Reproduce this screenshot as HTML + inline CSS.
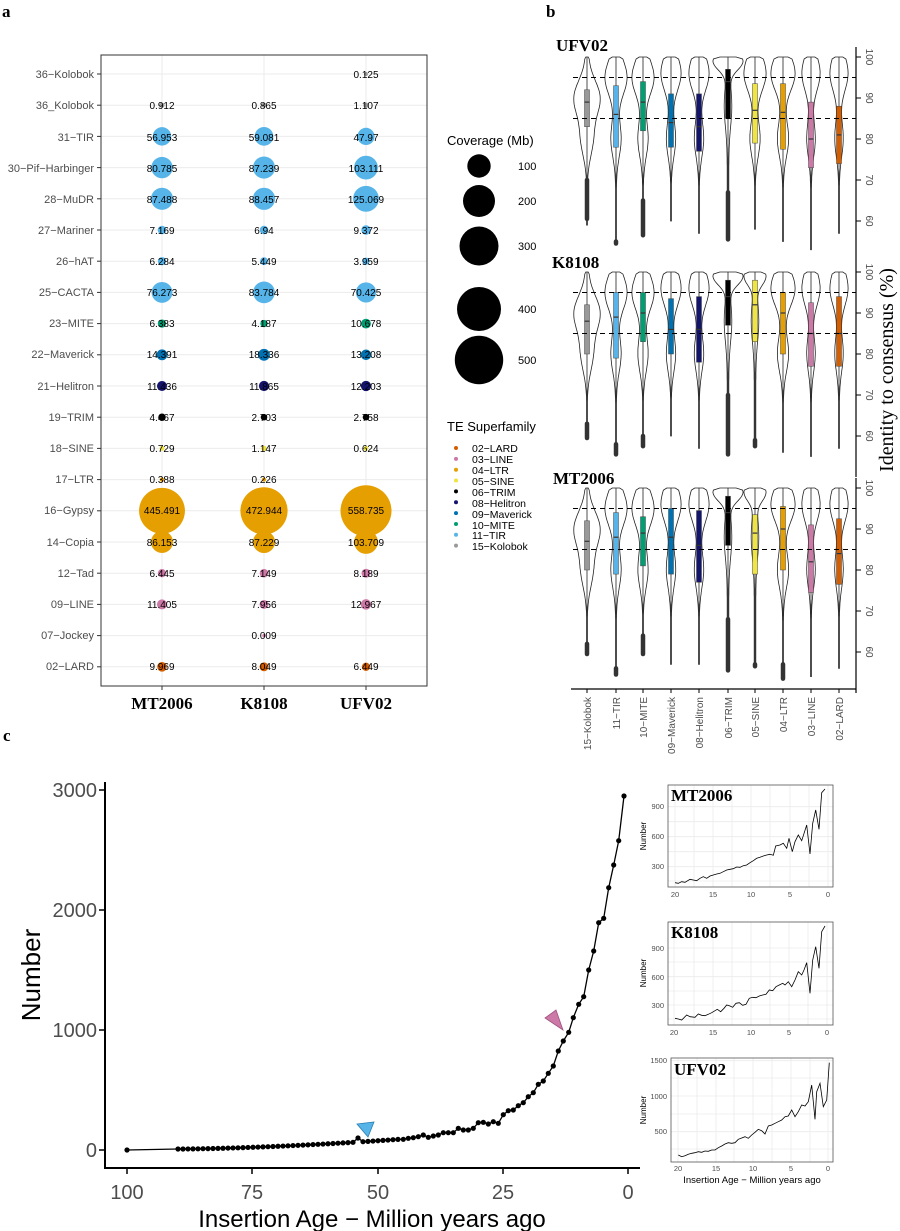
<!DOCTYPE html>
<html><head><meta charset="utf-8">
<style>
body{margin:0;background:#fff;}
svg{display:block;font-family:"Liberation Sans",sans-serif;}
.ser{font-family:"Liberation Serif",serif;font-weight:bold;}
.rl{font-size:11px;fill:#4d4d4d;text-anchor:end;}
.v{font-size:10px;fill:#000;text-anchor:middle;}
.tk{font-size:10px;fill:#4d4d4d;}
</style></head><body>
<svg id="s" width="900" height="1231" viewBox="0 0 900 1231" xmlns="http://www.w3.org/2000/svg">
<rect width="900" height="1231" fill="#fff"/>
<text x="2" y="17" class="ser" font-size="17">a</text>
<text x="546" y="17" class="ser" font-size="17">b</text>
<text x="3" y="741" class="ser" font-size="17">c</text>

<!-- PANEL A -->
<g id="pa"></g>
<rect x="101" y="55" width="326" height="631" fill="none" stroke="#333" stroke-width="1"/>
<g class="rl">
<text x="94" y="78">36−Kolobok</text><text x="94" y="109">36_Kolobok</text><text x="94" y="141">31−TIR</text><text x="94" y="172">30−Pif−Harbinger</text><text x="94" y="203">28−MuDR</text><text x="94" y="234">27−Mariner</text><text x="94" y="265">26−hAT</text><text x="94" y="296">25−CACTA</text><text x="94" y="327">23−MITE</text><text x="94" y="358">22−Maverick</text><text x="94" y="390">21−Helitron</text><text x="94" y="421">19−TRIM</text><text x="94" y="452">18−SINE</text><text x="94" y="483">17−LTR</text><text x="94" y="514">16−Gypsy</text><text x="94" y="546">14−Copia</text><text x="94" y="577">12−Tad</text><text x="94" y="608">09−LINE</text><text x="94" y="639">07−Jockey</text><text x="94" y="670">02−LARD</text>
</g>
<g class="v">
<text x="366" y="78">0.125</text>
<text x="162" y="109">0.912</text><text x="264" y="109">0.865</text><text x="366" y="109">1.107</text>
<text x="162" y="141">56.953</text><text x="264" y="141">59.081</text><text x="366" y="141">47.97</text>
<text x="162" y="172">80.785</text><text x="264" y="172">87.239</text><text x="366" y="172">103.111</text>
<text x="162" y="203">87.488</text><text x="264" y="203">88.457</text><text x="366" y="203">125.069</text>
<text x="162" y="234">7.169</text><text x="264" y="234">6.94</text><text x="366" y="234">9.372</text>
<text x="162" y="265">6.284</text><text x="264" y="265">5.449</text><text x="366" y="265">3.959</text>
<text x="162" y="296">76.273</text><text x="264" y="296">83.784</text><text x="366" y="296">70.425</text>
<text x="162" y="327">6.383</text><text x="264" y="327">4.187</text><text x="366" y="327">10.678</text>
<text x="162" y="358">14.391</text><text x="264" y="358">18.336</text><text x="366" y="358">13.208</text>
<text x="162" y="390">11.436</text><text x="264" y="390">11.865</text><text x="366" y="390">12.203</text>
<text x="162" y="421">4.467</text><text x="264" y="421">2.703</text><text x="366" y="421">2.758</text>
<text x="162" y="452">0.729</text><text x="264" y="452">1.147</text><text x="366" y="452">0.624</text>
<text x="162" y="483">0.388</text><text x="264" y="483">0.226</text>
<text x="162" y="514">445.491</text><text x="264" y="514">472.944</text><text x="366" y="514">558.735</text>
<text x="162" y="546">86.153</text><text x="264" y="546">87.229</text><text x="366" y="546">103.709</text>
<text x="162" y="577">6.445</text><text x="264" y="577">7.149</text><text x="366" y="577">8.189</text>
<text x="162" y="608">11.405</text><text x="264" y="608">7.956</text><text x="366" y="608">12.967</text>
<text x="264" y="639">0.009</text>
<text x="162" y="670">9.969</text><text x="264" y="670">8.049</text><text x="366" y="670">6.449</text>
</g>
<g class="ser" font-size="17" text-anchor="middle">
<text x="162" y="709">MT2006</text><text x="264" y="709">K8108</text><text x="366" y="709">UFV02</text>
</g>

<!-- Legends -->
<text x="447" y="145" font-size="13" fill="#000">Coverage (Mb)</text>
<g fill="#000">
<circle cx="479" cy="166" r="11.7"/><circle cx="479" cy="201" r="16"/><circle cx="479" cy="246" r="19.5"/><circle cx="479" cy="309" r="22"/><circle cx="479" cy="360" r="24.2"/>
</g>
<g font-size="11" fill="#000">
<text x="518" y="170">100</text><text x="518" y="205">200</text><text x="518" y="250">300</text><text x="518" y="313">400</text><text x="518" y="364">500</text>
</g>
<text x="447" y="431" font-size="13" fill="#000">TE Superfamily</text>
<g font-size="10.5" fill="#000">
<text x="472" y="452">02−LARD</text><text x="472" y="463">03−LINE</text><text x="472" y="474">04−LTR</text><text x="472" y="485">05−SINE</text><text x="472" y="496">06−TRIM</text><text x="472" y="507">08−Helitron</text><text x="472" y="518">09−Maverick</text><text x="472" y="529">10−MITE</text><text x="472" y="539">11−TIR</text><text x="472" y="550">15−Kolobok</text>
</g>
<g id="legdots"></g>

<!-- PANEL B -->
<g id="pb"></g>
<text x="556" y="51" class="ser" font-size="17">UFV02</text>
<text x="552" y="268" class="ser" font-size="17">K8108</text>
<text x="553" y="484" class="ser" font-size="17">MT2006</text>
<g class="tk" text-anchor="middle">
<text transform="translate(866,57) rotate(90)">100</text><text transform="translate(866,98) rotate(90)">90</text><text transform="translate(866,139) rotate(90)">80</text><text transform="translate(866,180) rotate(90)">70</text><text transform="translate(866,221) rotate(90)">60</text>
<text transform="translate(866,272) rotate(90)">100</text><text transform="translate(866,313) rotate(90)">90</text><text transform="translate(866,354) rotate(90)">80</text><text transform="translate(866,395) rotate(90)">70</text><text transform="translate(866,436) rotate(90)">60</text>
<text transform="translate(866,488) rotate(90)">100</text><text transform="translate(866,529) rotate(90)">90</text><text transform="translate(866,570) rotate(90)">80</text><text transform="translate(866,611) rotate(90)">70</text><text transform="translate(866,652) rotate(90)">60</text>
</g>
<g class="tk" text-anchor="end">
<text transform="translate(591,697) rotate(-90)">15−Kolobok</text><text transform="translate(620,697) rotate(-90)">11−TIR</text><text transform="translate(647,697) rotate(-90)">10−MITE</text><text transform="translate(675,697) rotate(-90)">09−Maverick</text><text transform="translate(703,697) rotate(-90)">08−Helitron</text><text transform="translate(732,697) rotate(-90)">06−TRIM</text><text transform="translate(759,697) rotate(-90)">05−SINE</text><text transform="translate(787,697) rotate(-90)">04−LTR</text><text transform="translate(815,697) rotate(-90)">03−LINE</text><text transform="translate(843,697) rotate(-90)">02−LARD</text>
</g>
<text transform="translate(893,370) rotate(-90)" text-anchor="middle" font-family="Liberation Serif,serif" font-size="20" fill="#000">Identity to consensus (%)</text>

<!-- PANEL C -->
<g id="pc"></g>
<g font-size="20" fill="#4d4d4d" text-anchor="end">
<text x="97" y="797">3000</text><text x="97" y="917">2000</text><text x="97" y="1037">1000</text><text x="97" y="1157">0</text>
</g>
<g font-size="20" fill="#4d4d4d" text-anchor="middle">
<text x="127" y="1199">100</text><text x="252" y="1199">75</text><text x="378" y="1199">50</text><text x="503" y="1199">25</text><text x="628" y="1199">0</text>
</g>
<text x="372" y="1227" font-size="24" fill="#000" text-anchor="middle">Insertion Age − Million years ago</text>
<text transform="translate(40,975) rotate(-90)" font-size="26" fill="#000" text-anchor="middle">Number</text>

<g id="ins"></g>
<g class="ser" font-size="17">
<text x="671" y="801">MT2006</text><text x="671" y="938">K8108</text><text x="674" y="1075">UFV02</text>
</g>
<g font-size="7.5" fill="#4d4d4d" text-anchor="end">
<text x="664" y="809">900</text><text x="664" y="839">600</text><text x="664" y="869">300</text>
<text x="664" y="951">900</text><text x="664" y="980">600</text><text x="664" y="1008">300</text>
<text x="667" y="1063">1500</text><text x="667" y="1099">1000</text><text x="667" y="1134">500</text>
</g>
<g font-size="7.5" fill="#4d4d4d" text-anchor="middle">
<text x="675" y="897">20</text><text x="713" y="897">15</text><text x="751" y="897">10</text><text x="790" y="897">5</text><text x="828" y="897">0</text>
<text x="674" y="1035">20</text><text x="713" y="1035">15</text><text x="751" y="1035">10</text><text x="789" y="1035">5</text><text x="827" y="1035">0</text>
<text x="678" y="1171">20</text><text x="716" y="1171">15</text><text x="753" y="1171">10</text><text x="791" y="1171">5</text><text x="828" y="1171">0</text>
</g>
<g font-size="8" fill="#000" text-anchor="middle">
<text transform="translate(646,836) rotate(-90)">Number</text>
<text transform="translate(646,973) rotate(-90)">Number</text>
<text transform="translate(646,1110) rotate(-90)">Number</text>
</g>
<text x="752" y="1183" font-size="9.5" fill="#000" text-anchor="middle">Insertion Age − Million years ago</text>

<script>
var NS="http://www.w3.org/2000/svg";
function el(p,t,a){var e=document.createElementNS(NS,t);for(var k in a)e.setAttribute(k,a[k]);p.appendChild(e);return e;}
var C={LARD:"#D55E00",LINE:"#CC79A7",LTR:"#E69F00",SINE:"#F0E442",TRIM:"#000000",HEL:"#14146e",MAV:"#0072B2",MITE:"#009E73",TIR:"#56B4E9",KOL:"#999999"};
// Panel A
var pa=document.getElementById("pa");
for(var i=0;i<20;i++){var y=74+i*31.2;el(pa,"line",{x1:101,x2:427,y1:y,y2:y,stroke:"#ebebeb","stroke-width":1});el(pa,"line",{x1:97,x2:101,y1:y,y2:y,stroke:"#333"});}
[162,264,366].forEach(function(x){el(pa,"line",{x1:x,x2:x,y1:55,y2:686,stroke:"#ebebeb"});el(pa,"line",{x1:x,x2:x,y1:686,y2:690,stroke:"#333"});});
var rows=[["KOL",[null,null,0.125]],["KOL",[0.912,0.865,1.107]],["TIR",[56.953,59.081,47.97]],["TIR",[80.785,87.239,103.111]],["TIR",[87.488,88.457,125.069]],["TIR",[7.169,6.94,9.372]],["TIR",[6.284,5.449,3.959]],["TIR",[76.273,83.784,70.425]],["MITE",[6.383,4.187,10.678]],["MAV",[14.391,18.336,13.208]],["HEL",[11.436,11.865,12.203]],["TRIM",[4.467,2.703,2.758]],["SINE",[0.729,1.147,0.624]],["LTR",[0.388,0.226,null]],["LTR",[445.491,472.944,558.735]],["LTR",[86.153,87.229,103.709]],["LINE",[6.445,7.149,8.189]],["LINE",[11.405,7.956,12.967]],["LINE",[null,0.009,null]],["LARD",[9.969,8.049,6.449]]];
var xs=[162,264,366];
rows.forEach(function(r,i){r[1].forEach(function(v,j){if(v===null)return;var rr=1.6+1.011*Math.sqrt(v);el(pa,"circle",{cx:xs[j],cy:74+i*31.2,r:rr,fill:C[r[0]]});});});
var ld=document.getElementById("legdots");
["LARD","LINE","LTR","SINE","TRIM","HEL","MAV","MITE","TIR","KOL"].forEach(function(k,i){el(ld,"circle",{cx:456,cy:448+i*10.85,r:2,fill:C[k]});});
// Panel B
var pb=document.getElementById("pb");
var T=[57,272,488],S=4.1,vx=[587,616,643,671,699,728,755,783,811,839];
var keys=["KOL","TIR","MITE","MAV","HEL","TRIM","SINE","LTR","LINE","LARD"];
var D=[
[[83,89,92,59,[61,70]],[78,86,93,55,[55,55]],[82,89,94,57,[57,65]],[78,84,91,60,null],[77,83,91,57,null],[85,94,97,56,[56,67]],[79,87,93.5,58,null],[77.5,86.5,93.5,55,null],[73,80,89,53,null],[74,81,88,57,null]],
[[80,88,92,60,[60,63]],[79,89,95,56,[56,58]],[83,90,95,58,[58,60]],[80,86,93.5,60,null],[78,86,94,57,null],[87,94,98,56,[56,70]],[83,92,98,58,[58,59]],[80,90,95,56,null],[77,85,92.5,55,null],[77,85,94,57,null]],
[[80,87,92,60,[60,62]],[79,88,94,55,[55,56]],[81,89,93,60,[60,64]],[79,88,95,57,null],[77,86,94.5,57,null],[86,94,98,56,[56,68]],[79,89,93.5,57,[57,57]],[80,90,95.5,54,[54,57]],[74.5,82,91,54,null],[76.5,84,92.5,56,null]]];
var peak=[90,95,95,96,96,99,96,96,96,96],wmax=[12,10,10,9,9,14,10,11,8,8];
for(var f=0;f<3;f++){
 var Y=function(v){return T[f]+(100-v)*S;};
 el(pb,"line",{x1:856,x2:856,y1:T[f]-10,y2:T[f]+205,stroke:"#000","stroke-width":1.2});
 [100,90,80,70,60].forEach(function(v){el(pb,"line",{x1:856,x2:861,y1:Y(v),y2:Y(v),stroke:"#000"});});
 for(var k=0;k<10;k++){
  var d=D[f][k],x=vx[k];var pk=peak[k]; if(f>0&&k==6)pk=99;
  var L=[],R=[];
  for(var v=100;v>=d[3];v-=0.5){
   var w=wmax[k]*Math.exp(-Math.pow((v-pk)/6,2))+ (wmax[k]*0.45)*Math.exp(-Math.pow((v-80)/6,2))+1.2*Math.max(0,(v-d[3])/(100-d[3]));
   if(k==5||(f>0&&k==6)){w=wmax[k]*Math.exp(-Math.pow((v-99)/3,2))+3*Math.exp(-Math.pow((v-88)/7,2))+0.8;}
   if(v>99.5)w*=0.6; w=Math.max(w,0.4);
   L.push((x-w).toFixed(1)+","+Y(v).toFixed(1));R.unshift((x+w).toFixed(1)+","+Y(v).toFixed(1));
  }
  el(pb,"polygon",{points:L.concat(R).join(" "),fill:"none",stroke:"#222","stroke-width":0.8});
  el(pb,"line",{x1:x,x2:x,y1:Y(100),y2:Y(d[3]),stroke:"#222","stroke-width":0.8});
  if(d[4])el(pb,"line",{x1:x,x2:x,y1:Y(d[4][1]),y2:Y(d[4][0])+2,stroke:"#333","stroke-width":4.5,"stroke-linecap":"round"});
  el(pb,"rect",{x:x-2.5,y:Y(d[2]),width:5,height:Y(d[0])-Y(d[2]),fill:C[keys[k]],stroke:"#444","stroke-width":0.5});
  el(pb,"line",{x1:x-2.5,x2:x+2.5,y1:Y(d[1]),y2:Y(d[1]),stroke:"#333","stroke-width":1.2});
 }
 [95,85].forEach(function(v){el(pb,"line",{x1:573,x2:856,y1:Y(v),y2:Y(v),stroke:"#000","stroke-width":1,"stroke-dasharray":"5,4"});});
}
el(pb,"line",{x1:571,x2:856,y1:689,y2:689,stroke:"#000","stroke-width":1.2});
vx.forEach(function(x){el(pb,"line",{x1:x,x2:x,y1:689,y2:693,stroke:"#000"});});
// Panel C
var pc=document.getElementById("pc");
el(pc,"line",{x1:105,x2:105,y1:782,y2:1168,stroke:"#000","stroke-width":2});
el(pc,"line",{x1:104,x2:640,y1:1168,y2:1168,stroke:"#000","stroke-width":2});
[790,910,1030,1150].forEach(function(y){el(pc,"line",{x1:99,x2:105,y1:y,y2:y,stroke:"#000","stroke-width":1.5});});
[127,252,378,503,628].forEach(function(x){el(pc,"line",{x1:x,x2:x,y1:1168,y2:1174,stroke:"#000","stroke-width":1.5});});
var pts=[[127,1150]];
for(var x=178;x<=398;x+=5){var t=(x-178)/225;var y=1149-10*Math.pow(t,1.6)-(x%15==0?1:0);if(Math.abs(x-358)<4)y-=4;pts.push([x,y]);}
var tail=[[403.3,1139.3],[408.3,1138.3],[413.3,1137.7],[418.3,1136.7],[423.3,1135],[428.3,1137.3],[433.3,1136],[438.3,1135],[443.3,1132.7],[448.3,1132.7],[453.3,1132.7],[458.3,1128.3],[463.3,1130],[468.3,1130],[473.3,1128.3],[478.3,1122.7],[483.3,1122.3],[488.3,1124],[493.3,1121.7],[498.3,1123.3],[503.3,1114.7],[508.3,1110.7],[513.3,1110],[518.3,1105.7],[523.3,1102.7],[528.3,1096.7],[533.3,1092.7],[538.3,1084.3],[543.3,1081],[548.3,1073.3],[553.3,1066],[558.3,1051],[563.3,1041],[568.7,1032.3],[573.3,1017.7],[578.7,1004.3],[583.7,996.7],[588.7,970],[593.7,951],[598.7,922.7],[603.7,918.3],[608.7,887.7],[613.7,865],[618.7,840.7],[624,796]];
pts=pts.concat(tail);
el(pc,"polyline",{points:pts.map(function(p){return p.join(",");}).join(" "),fill:"none",stroke:"#000","stroke-width":1.3});
pts.forEach(function(p){el(pc,"circle",{cx:p[0],cy:p[1],r:2.6,fill:"#000"});});
el(pc,"polygon",{points:"545,1018 556,1010 563,1030",fill:"#CC79A7",stroke:"#a0507f","stroke-width":0.8});
el(pc,"polygon",{points:"357,1124 374,1122 368,1137",fill:"#56B4E9",stroke:"#2a7fb0","stroke-width":0.8});
// Insets
var ins=document.getElementById("ins");
function inset(bx,by,bw,bh,gx,gy,data){
 el(ins,"rect",{x:bx,y:by,width:bw,height:bh,fill:"#fff"});
 gx.forEach(function(x){el(ins,"line",{x1:x,x2:x,y1:by,y2:by+bh,stroke:"#ebebeb","stroke-width":0.8});});
 gy.forEach(function(y){el(ins,"line",{x1:bx,x2:bx+bw,y1:y,y2:y,stroke:"#ebebeb","stroke-width":0.8});});
 el(ins,"polyline",{points:data.map(function(p){return (630+p[0]/3).toFixed(1)+","+(770+p[1]/3).toFixed(1);}).join(" "),fill:"none",stroke:"#000","stroke-width":0.8});
 el(ins,"rect",{x:bx,y:by,width:bw,height:bh,fill:"none",stroke:"#555","stroke-width":0.8});
}
inset(668,785,165,102,[675,694,713,732,751,770,790,809,828],[806.7,821.7,836.7,851.7,866.7,881],
[[135,338],[145,340],[155,335],[165,337],[180,328],[190,330],[200,332],[210,325],[220,320],[230,325],[240,318],[250,315],[260,312],[270,310],[280,305],[290,300],[300,298],[310,296],[320,291],[330,292],[340,287],[350,285],[360,278],[370,272],[380,265],[390,262],[400,258],[410,255],[420,253],[430,256],[437,228],[450,225],[460,220],[470,235],[477,205],[487,245],[495,215],[505,195],[515,212],[530,165],[540,252],[548,160],[557,120],[567,178],[575,68],[585,57]]);
inset(668,922,165,103,[674,694,713,732,751,770,789,808,827],[948,962,976.7,991,1005,1019],
[[135,745],[145,747],[155,750],[170,735],[180,740],[195,742],[205,732],[215,736],[225,737],[235,733],[245,728],[255,722],[262,718],[272,725],[282,715],[290,705],[300,708],[308,712],[318,700],[328,698],[338,706],[348,703],[358,685],[368,682],[378,683],[388,678],[398,675],[408,673],[418,660],[428,662],[438,650],[448,645],[458,640],[465,645],[475,635],[485,650],[495,630],[505,605],[515,615],[522,600],[530,578],[540,670],[548,570],[557,530],[567,595],[575,485],[585,468]]);
inset(671,1058,162,104,[678,697,716,734,753,772,791,810,828],[1060.7,1078,1096,1114,1131.7,1149],
[[145,1155],[155,1160],[165,1157],[175,1153],[185,1150],[195,1148],[205,1145],[215,1147],[225,1143],[235,1144],[245,1140],[255,1140],[265,1133],[275,1128],[285,1122],[295,1118],[305,1120],[315,1118],[325,1108],[335,1104],[345,1100],[355,1105],[365,1095],[375,1087],[385,1078],[395,1082],[405,1092],[415,1068],[425,1065],[435,1060],[445,1055],[455,1050],[465,1040],[475,1038],[485,1020],[495,1040],[505,1025],[515,1005],[525,1008],[535,995],[545,945],[555,1048],[560,965],[570,940],[580,1010],[590,990],[598,878]]);
</script>
</svg>
</body></html>
